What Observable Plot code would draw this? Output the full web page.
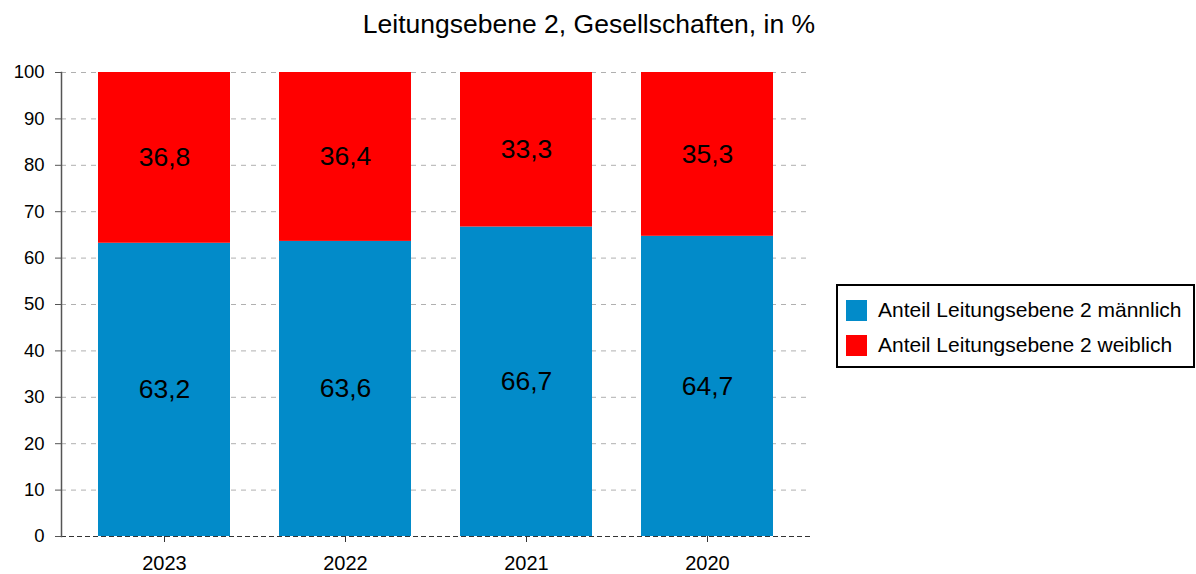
<!DOCTYPE html>
<html><head><meta charset="utf-8">
<script src="https://cdn.jsdelivr.net/npm/d3@7"></script>
<script src="https://cdn.jsdelivr.net/npm/@observablehq/plot@0.6"></script>
<style>
body{margin:0;background:#fff;font-family:"Liberation Sans",Arial,sans-serif;}
#wrap{position:relative;width:1196px;height:574px;}
#title{position:absolute;left:0;width:1178px;top:9px;text-align:center;font-size:26.5px;line-height:30px;color:#000;white-space:nowrap;}
#chart{position:absolute;left:0;top:0;}
#legend{position:absolute;left:836px;top:284px;width:355px;height:80px;border:2px solid #000;box-sizing:content-box;font-size:21px;}
.row{position:absolute;left:8px;display:flex;align-items:center;height:24px;white-space:nowrap;}
.sw{width:21px;height:21px;margin-right:11px;}
#chart g[aria-label="y-axis tick label"] text{font-size:18.5px !important;}
#chart g[aria-label="x-axis tick label"] text{font-size:20px !important;}
</style></head><body>
<div id="wrap">
<div id="chart"></div>
<div id="title"></div>
<div id="legend"></div>
</div>
<script>
const years = ["2023","2022","2021","2020"];
const male = [63.2, 63.6, 66.7, 64.7];
const female = [36.8, 36.4, 33.3, 35.3];
const seriesNames = ["Anteil Leitungsebene 2 männlich","Anteil Leitungsebene 2 weiblich"];
const colors = ["#028bc9","#ff0000"];
const yTicks = [0,10,20,30,40,50,60,70,80,90,100];
const titleText = "Leitungsebene 2, Gesellschaften, in %";

const data = [];
years.forEach((yr,i)=>{
  data.push({year:yr, series:seriesNames[0], value:male[i]});
  data.push({year:yr, series:seriesNames[1], value:female[i]});
});
const fmt = v => v.toFixed(1).replace(".", ",");

const plot = Plot.plot({
  width: 830, height: 574,
  marginTop: 72, marginBottom: 38, marginLeft: 61, marginRight: 20,
  style: {fontFamily: '"Liberation Sans", Arial, sans-serif', color: "#000", background: "transparent", overflow: "visible"},
  x: {domain: years, paddingInner: 0.27, paddingOuter: 0.204, label: null},
  y: {domain: [0,100], label: null},
  color: {domain: seriesNames, range: colors},
  marks: [
    Plot.gridY(yTicks.filter(d=>d>0), {stroke:"#b0b0b0", strokeOpacity:1, strokeDasharray:"5,5", strokeWidth:1}),
    Plot.barY(data, {x:"year", y:"value", fill:"series"}),
    Plot.text(data, Plot.stackY({x:"year", y:"value", z:"series", text: d=>fmt(d.value), fontSize:26.5, fill:"#000"})),
    Plot.ruleY([0], {stroke:"#333", strokeDasharray:"5,3", strokeWidth:1}),
    Plot.frame({anchor:"left", stroke:"#555", strokeWidth:1.5}),
    Plot.axisY({ticks: yTicks, tickSize: 6, tickPadding: 11, stroke:"#555", fill:"#000", label:null, fontSize:18.5}),
    Plot.axisX({tickSize: 6, tickPadding: 13, stroke:"#333", fill:"#000", label:null, fontSize:20})
  ]
});
document.getElementById("chart").appendChild(plot);
document.getElementById("title").textContent = titleText;
const lg = document.getElementById("legend");
seriesNames.forEach((s,i)=>{
  const r = document.createElement("div");
  r.className = "row";
  r.style.top = (i===0 ? 12 : 47) + "px";
  r.innerHTML = `<div class="sw" style="background:${colors[i]}"></div><span>${s}</span>`;
  lg.appendChild(r);
});
</script>
</body></html>
